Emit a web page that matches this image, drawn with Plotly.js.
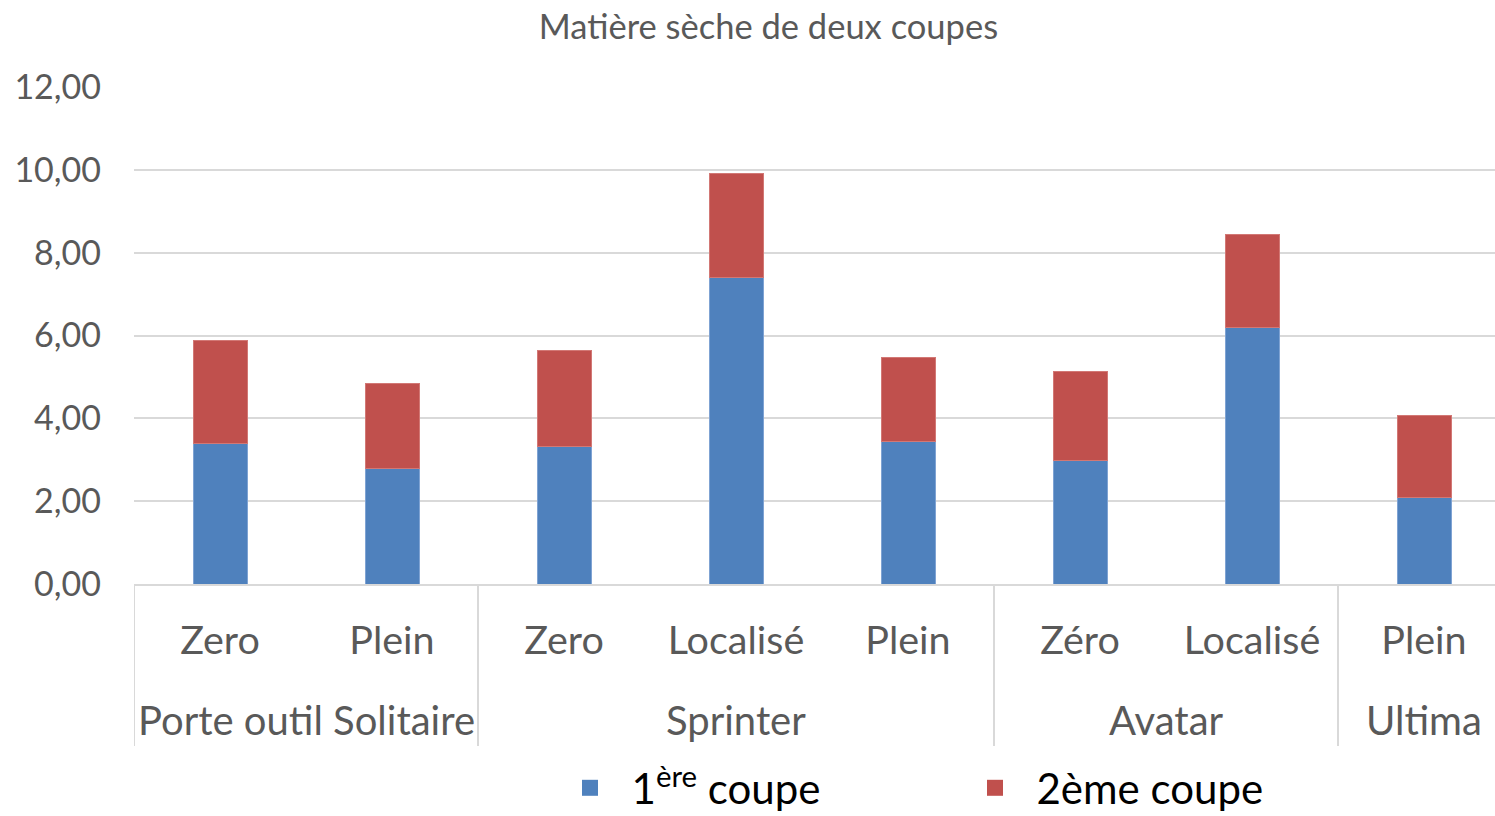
<!DOCTYPE html>
<html>
<head>
<meta charset="utf-8">
<script src="https://cdn.plot.ly/plotly-3.0.1.min.js"></script>
<style>html,body{margin:0;padding:0;background:#fff;}#chart{width:1495px;height:816px;}</style>
</head>
<body>
<div id="chart"></div>
<script>
const groups = ["Porte outil Solitaire","Porte outil Solitaire","Sprinter","Sprinter","Sprinter","Avatar","Avatar","Ultima"];
const subcats = ["Zero","Plein","Zero","Localisé","Plein","Zéro","Localisé","Plein"];
const coupe1 = [3.40, 2.78, 3.31, 7.39, 3.45, 2.97, 6.20, 2.08];
const coupe2 = [2.49, 2.05, 2.32, 2.51, 2.01, 2.17, 2.23, 2.00];
const yTicks = [0, 2, 4, 6, 8, 10, 12];
const seriesNames = ['\u00a0\u00a01<sup>ère</sup> coupe', '\u00a0\u00a02ème coupe'];
const seriesColors = ['#4F81BD', '#C0504D'];

const FONT = "Lato, 'Open Sans', sans-serif";
const GREY = '#595959';
const LINE = '#D9D9D9';
const idx = subcats.map((_, i) => i);

// group spans derived from the data
const spans = [];
groups.forEach((g, i) => {
  if (!spans.length || spans[spans.length-1].name !== g) spans.push({name:g, start:i, end:i});
  else spans[spans.length-1].end = i;
});

const plotLeft = 134, plotTop = 87, plotBottom = 584, plotH = plotBottom - plotTop;
const plotW = 1495 - plotLeft;
const catPx = 172; // width of one category slot in px (plot area runs past the right edge)
const toPaperY = py => (plotBottom - py) / plotH;

const annotations = spans.map(s => ({
  text: s.name, x: (s.start + s.end) / 2, xref:'x', y: toPaperY(720), yref:'paper',
  xanchor:'center', yanchor:'middle', showarrow:false,
  font:{family:FONT, size:40, color:GREY}
}));
const shapes = spans.map(s => ({
  type:'line', xref:'x', yref:'paper', x0: s.start - 0.5, x1: s.start - 0.5,
  y0: 0, y1: toPaperY(746), line:{color:LINE, width:2}
}));

const data = [
  {type:'bar', name:seriesNames[0], x:idx, y:coupe1, showlegend:false,
   marker:{color:seriesColors[0], line:{color:'#7FA3D3', width:1}}},
  {type:'bar', name:seriesNames[1], x:idx, y:coupe2, showlegend:false,
   marker:{color:seriesColors[1], line:{color:'#D27875', width:1}}},
  {type:'scatter', mode:'markers', name:seriesNames[0], x:[null], y:[null],
   marker:{symbol:'square', size:24, color:seriesColors[0]}},
  {type:'scatter', mode:'markers', name:seriesNames[1], x:[null], y:[null],
   marker:{symbol:'square', size:24, color:seriesColors[1]}}
];
const layout = {
  width:1495, height:816,
  barmode:'stack', bargap:0.686,
  separators:', ',
  paper_bgcolor:'#fff', plot_bgcolor:'#fff',
  margin:{l:plotLeft, r:0, t:plotTop, b:816-plotBottom, autoexpand:false},
  title:{text:'Matière sèche de deux coupes', x:0.514, xanchor:'center', xref:'container',
         y:1-27/816, yanchor:'middle', yref:'container',
         font:{family:FONT, size:34.5, color:GREY}},
  font:{family:FONT, color:GREY},
  xaxis:{range:[-0.5, -0.5 + plotW/catPx], tickvals:idx, ticktext:subcats, showgrid:false,
         zeroline:false, showline:true, linecolor:LINE, linewidth:2,
         ticks:'', ticklabelstandoff:21, tickfont:{family:FONT, size:39.5, color:GREY}},
  yaxis:{range:[0,12], tickvals:yTicks, tickformat:'.2f', showgrid:true, gridcolor:LINE, gridwidth:2,
         zeroline:false, showline:false, ticks:'', ticklabelstandoff:32,
         tickfont:{family:FONT, size:34, color:GREY}},
  legend:{orientation:'h', x:(570-plotLeft)/plotW, xanchor:'left', y:toPaperY(788), yanchor:'middle',
          font:{family:FONT, size:42, color:'#000'}, traceorder:'normal', entrywidth:360,
          bgcolor:'rgba(0,0,0,0)'},
  annotations: annotations,
  shapes: shapes,
  showlegend:true
};
Plotly.newPlot('chart', data, layout, {displayModeBar:false, staticPlot:true});
</script>
</body>
</html>
